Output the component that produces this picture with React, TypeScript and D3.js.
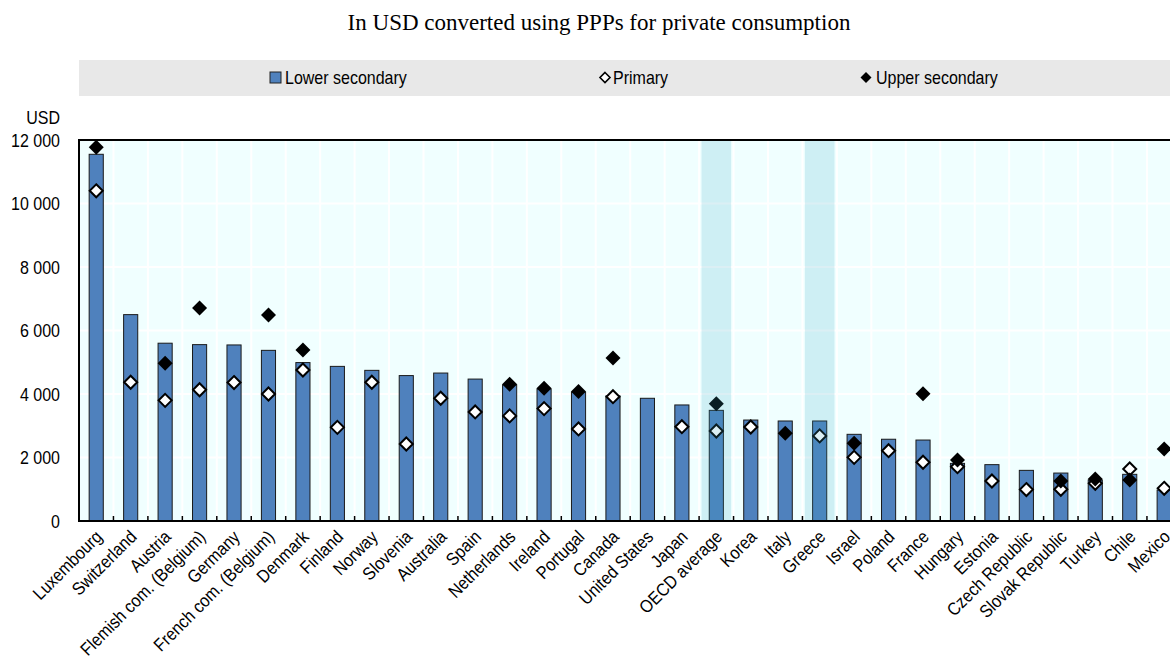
import React from "react";
import * as d3 from "d3";

const categories = [
  "Luxembourg", "Switzerland", "Austria", "Flemish com. (Belgium)", "Germany",
  "French com. (Belgium)", "Denmark", "Finland", "Norway", "Slovenia", "Australia",
  "Spain", "Netherlands", "Ireland", "Portugal", "Canada", "United States", "Japan",
  "OECD average", "Korea", "Italy", "Greece", "Israel", "Poland", "France", "Hungary",
  "Estonia", "Czech Republic", "Slovak Republic", "Turkey", "Chile", "Mexico",
];

const lowerSecondary = [
  11550, 6500, 5600, 5555, 5545, 5375, 4990, 4870, 4745, 4580, 4660,
  4470, 4290, 4160, 4060, 3940, 3865, 3655, 3485, 3180, 3150, 3150,
  2730, 2575, 2550, 1815, 1775, 1595, 1510, 1290, 1470, 975,
];

const primary: (number | null)[] = [
  10400, 4370, 3800, 4135, 4360, 4000, 4755, 2950, 4370, 2425, 3865,
  3435, 3310, 3540, 2900, 3915, null, 2970, 2835, 2960, null, 2680,
  2005, 2215, 1850, 1710, 1260, 990, 1000, 1190, 1640, 1030,
];

const upperSecondary: (number | null)[] = [
  11770, null, 4965, 6710, null, 6490, 5385, null, null, null, null,
  null, 4305, 4180, 4075, 5135, null, null, 3695, null, 2760, null,
  2445, null, 4010, 1920, null, null, 1260, 1320, 1290, 2270,
];

const highlighted = ["OECD average", "Greece"];
const yTicks = [0, 2000, 4000, 6000, 8000, 10000, 12000];

const W = 1170;
const H = 659;
const left = 79;
const top = 140;
const bottom = 521;
const step = 34.45;
const right = left + step * categories.length;

const fontSans = "'Liberation Sans', Arial, sans-serif";

function diamond(cx: number, cy: number, r: number) {
  return `M${cx},${cy - r}L${cx + r},${cy}L${cx},${cy + r}L${cx - r},${cy}Z`;
}

const fmt = (v: number) => d3.format(",")(v).replace(/,/g, " ");

// narrow-looking text: taller glyphs compressed horizontally
function NText(props: { x: number; y: number; anchor?: string; rotate?: number; children: React.ReactNode }) {
  const r = props.rotate ? ` rotate(${props.rotate})` : "";
  return (
    <text
      transform={`translate(${props.x},${props.y})${r} scale(0.89,1)`}
      textAnchor={props.anchor || "start"}
      fontSize={18}
      fill="#000"
    >
      {props.children}
    </text>
  );
}

export default function App() {
  const x = d3
    .scaleBand<string>()
    .domain(categories)
    .range([left, right])
    .paddingInner(0.59)
    .paddingOuter(0.295);
  const y = d3.scaleLinear().domain([0, 12000]).range([bottom, top]);
  const bw = x.bandwidth();
  const center = (c: string) => (x(c) as number) + bw / 2;
  const boundaries = d3.range(categories.length + 1).map((i) => left + i * step);

  return (
    <svg
      width={W}
      height={H}
      style={{ position: "absolute", left: 0, top: 0, background: "#fff" }}
      fontFamily={fontSans}
    >
      <text
        x={599}
        y={30}
        textAnchor="middle"
        fontFamily="'Liberation Serif', 'Times New Roman', serif"
        fontSize={23}
        fill="#000"
      >
        In USD converted using PPPs for private consumption
      </text>

      {/* legend */}
      <rect x={left} y={60} width={W - left} height={36} fill="#e8e8e8" />
      <rect x={270} y={72} width={11} height={11} fill="#4f81bd" stroke="#222" strokeWidth={1} />
      <NText x={285} y={84}>Lower secondary</NText>
      <path d={diamond(605, 77.5, 5)} fill="#fff" stroke="#000" strokeWidth={1.6} />
      <NText x={613} y={84}>Primary</NText>
      <path d={diamond(866, 77.5, 5.5)} fill="#000" />
      <NText x={876} y={84}>Upper secondary</NText>

      {/* plot background */}
      <rect x={left} y={top} width={right - left} height={bottom - top} fill="#f0ffff" />
      {yTicks.map((t) => (
        <line key={"g" + t} x1={left} x2={right} y1={y(t)} y2={y(t)} stroke="#fff" strokeWidth={2} />
      ))}
      {boundaries.map((b, i) => (
        <line key={"v" + i} x1={b} x2={b} y1={top} y2={bottom} stroke="#fff" strokeWidth={2} />
      ))}

      {/* bars */}
      {categories.map((c, i) => (
        <rect
          key={"b" + c}
          x={x(c)}
          y={y(lowerSecondary[i])}
          width={bw}
          height={bottom - y(lowerSecondary[i])}
          fill="#4f81bd"
          stroke="#1a1a1a"
          strokeWidth={1}
        />
      ))}

      {/* markers */}
      {categories.map((c, i) =>
        primary[i] == null ? null : (
          <path
            key={"p" + c}
            d={diamond(center(c), y(primary[i] as number), 6.5)}
            fill="#fff"
            stroke="#000"
            strokeWidth={2}
          />
        )
      )}
      {categories.map((c, i) =>
        upperSecondary[i] == null ? null : (
          <path key={"u" + c} d={diamond(center(c), y(upperSecondary[i] as number), 7.5)} fill="#000" />
        )
      )}

      {/* highlight overlays */}
      {highlighted.map((c) => (
        <rect
          key={"h" + c}
          x={center(c) - step * 0.43}
          y={top}
          width={step * 0.86}
          height={bottom - top}
          fill="#3aa6c2"
          fillOpacity={0.18}
        />
      ))}

      {/* axes */}
      <line x1={left} x2={W} y1={top} y2={top} stroke="#000" strokeWidth={2} />
      <line x1={left} x2={left} y1={top - 1} y2={bottom + 1} stroke="#000" strokeWidth={2} />
      <line x1={left} x2={W} y1={bottom} y2={bottom} stroke="#000" strokeWidth={2} />
      {boundaries.slice(1).map((b, i) => (
        <line key={"t" + i} x1={b} x2={b} y1={bottom} y2={bottom - 5} stroke="#000" strokeWidth={1.5} />
      ))}

      {/* y labels */}
      <NText x={60} y={124} anchor="end">USD</NText>
      {yTicks.map((t) => (
        <NText key={"yl" + t} x={60} y={y(t) + 6.5} anchor="end">
          {fmt(t)}
        </NText>
      ))}

      {/* x labels */}
      {categories.map((c) => (
        <NText key={"xl" + c} x={center(c) + 7} y={538} anchor="end" rotate={-45}>
          {c}
        </NText>
      ))}
    </svg>
  );
}
